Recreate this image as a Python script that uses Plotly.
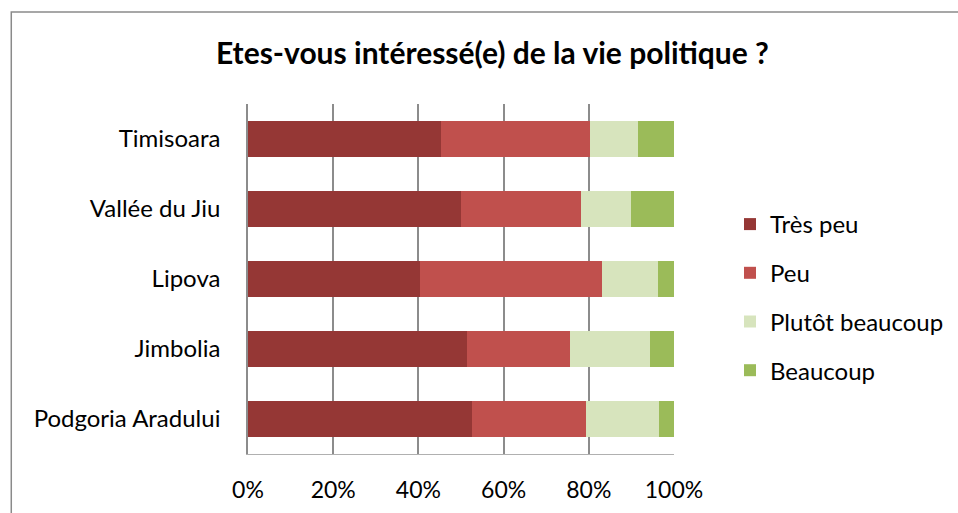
import plotly.graph_objects as go

# Survey: "Etes-vous intéressé(e) de la vie politique ?" — shares of answers per locality (%)
localities = ["Timisoara", "Vallée du Jiu", "Lipova", "Jimbolia", "Podgoria Aradului"]
tres_peu = [45.3, 49.9, 40.3, 51.3, 52.6]
peu = [34.9, 28.2, 42.7, 24.3, 26.8]
plutot_beaucoup = [11.4, 11.9, 13.2, 18.7, 17.0]
beaucoup = [8.4, 10.0, 3.8, 5.7, 3.6]
x_ticks = [0, 20, 40, 60, 80, 100]

series = [
    ("Très peu", tres_peu, "#953735"),
    ("Peu", peu, "#C0504D"),
    ("Plutôt beaucoup", plutot_beaucoup, "#D7E4BD"),
    ("Beaucoup", beaucoup, "#9BBB59"),
]

FONT = "Lato, 'Open Sans', sans-serif"
W, H = 958, 513
ML, MR, MT, MB = 248, 283.5, 104, 59

fig = go.Figure()
for i, (name, vals, color) in enumerate(series):
    fig.add_trace(go.Bar(
        y=localities, x=vals, name=name, orientation="h",
        marker=dict(color=color, line=dict(width=0)),
        legendgroup=str(i), hoverinfo="x+y+name",
    ))

plot_w = W - ML - MR
plot_h = H - MT - MB

# outer chart frame (left and top edges visible)
fig.add_shape(
    type="rect", xref="paper", yref="paper", layer="below",
    x0=(11 - ML) / plot_w, x1=(W + 20 - ML) / plot_w,
    y0=-(H + 20 - (H - MB)) / plot_h, y1=(H - MB - 12) / plot_h,
    line=dict(color="#8a8a8a", width=1.5), fillcolor="rgba(0,0,0,0)",
)

fig.update_layout(
    width=W, height=H,
    margin=dict(l=ML, r=MR, t=MT, b=MB, pad=0, autoexpand=False),
    paper_bgcolor="white", plot_bgcolor="white",
    barmode="stack", bargap=0.486,
    font=dict(family=FONT, color="#000000", size=24),
    title=dict(
        text="<b>Etes-vous intéressé(e) de la vie politique ?</b>",
        xref="container", x=0.514, xanchor="center",
        yref="container", y=1 - 53 / H, yanchor="middle",
        font=dict(family=FONT, size=30, color="#000000"),
    ),
    legend=dict(
        xref="container", x=730 / W, xanchor="left",
        yref="container", y=1 - 202 / H, yanchor="top",
        traceorder="grouped", tracegroupgap=14.5,
        font=dict(family=FONT, size=24, color="#000000"),
        bgcolor="rgba(0,0,0,0)", borderwidth=0,
        itemclick=False,
    ),
    showlegend=True,
)

fig.update_xaxes(
    range=[0, 100], tickvals=x_ticks, ticktext=[f"{v}%" for v in x_ticks],
    showgrid=True, gridcolor="#8c8c8c", gridwidth=1.5,
    showline=True, linecolor="#b0b0b0", linewidth=1,
    zeroline=False, ticks="", ticklabelstandoff=15, automargin=False,
    tickfont=dict(family=FONT, size=23, color="#000000"),
    fixedrange=True,
)
fig.update_yaxes(
    categoryorder="array", categoryarray=localities, autorange="reversed",
    showgrid=False, showline=True, linecolor="#8c8c8c", linewidth=1.5,
    ticks="", ticklabelstandoff=21, automargin=False,
    tickfont=dict(family=FONT, size=24, color="#000000"),
    fixedrange=True,
)

fig.write_html("out.html")
